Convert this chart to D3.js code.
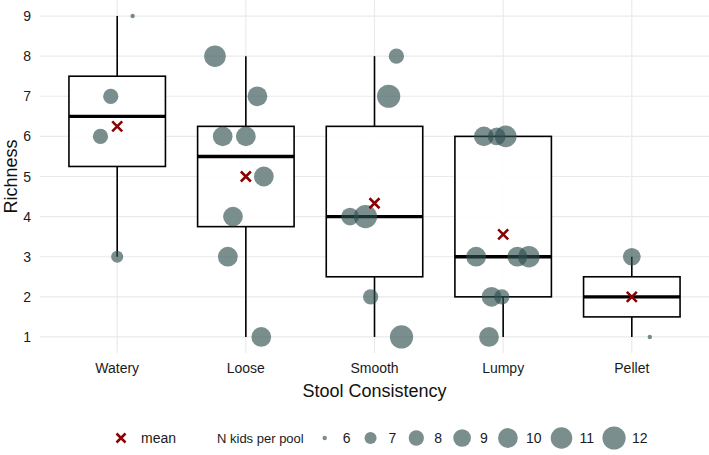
<!DOCTYPE html>
<html>
<head>
<meta charset="utf-8">
<script src="https://cdn.jsdelivr.net/npm/d3@7"></script>
<style>
  body { margin: 0; background: #fff; }
  svg { display: block; font-family: "Liberation Sans", Arial, sans-serif; }
</style>
</head>
<body>
<svg id="chart" width="709" height="455"></svg>
<script>
// categories on the x axis
var categories = ["Watery", "Loose", "Smooth", "Lumpy", "Pellet"];
var yTicks = [1, 2, 3, 4, 5, 6, 7, 8, 9];
var sizeLegend = [6, 7, 8, 9, 10, 11, 12];

// one entry per pooled sample
var pointCategory = [
  "Watery", "Watery", "Watery", "Watery",
  "Loose", "Loose", "Loose", "Loose", "Loose", "Loose", "Loose", "Loose",
  "Smooth", "Smooth", "Smooth", "Smooth", "Smooth", "Smooth",
  "Lumpy", "Lumpy", "Lumpy", "Lumpy", "Lumpy", "Lumpy", "Lumpy", "Lumpy", "Lumpy",
  "Pellet", "Pellet"
];
var pointRichness = [
  9, 7, 6, 3,
  8, 7, 6, 6, 5, 4, 3, 1,
  8, 7, 4, 4, 2, 1,
  6, 6, 6, 3, 3, 3, 2, 2, 1,
  3, 1
];
var pointKids = [
  6, 8, 8, 7,
  11, 10, 10, 10, 10, 10, 10, 10,
  8, 12, 9, 12, 8, 12,
  10, 9, 11, 10, 10, 11, 10, 8, 10,
  9, 6
];
// horizontal jitter, in category steps
var pointJitter = [
  0.12, -0.05, -0.13, 0,
  -0.24, 0.09, -0.18, 0, 0.14, -0.10, -0.14, 0.12,
  0.17, 0.11, -0.19, -0.07, -0.03, 0.21,
  -0.15, -0.05, 0.02, -0.21, 0.11, 0.20, -0.09, -0.01, -0.11,
  0, 0.14
];

var svg = d3.select("#chart");
var panel = {left: 40, right: 709, top: 0, bottom: 353};

var x = d3.scalePoint()
    .domain(categories)
    .range([panel.left, panel.right])
    .padding(0.6);

var y = d3.scaleLinear()
    .domain([0.6, 9.4])
    .range([panel.bottom, panel.top]);

var rScale = d3.scaleLinear().domain([0, Math.sqrt(6)]).range([2.2, 11.6]);
function radius(n) { return rScale(Math.sqrt(n - 6)); }

var pointColor = "#2f4f4f";
var meanColor = "#8b0000";
var gridColor = "#e8ebeb";
var lineW = 1.6;

// grid
svg.append("g").selectAll("line")
    .data(yTicks)
    .join("line")
    .attr("x1", panel.left).attr("x2", panel.right)
    .attr("y1", function (d) { return y(d); })
    .attr("y2", function (d) { return y(d); })
    .attr("stroke", gridColor).attr("stroke-width", 1.2);

svg.append("g").selectAll("line")
    .data(categories)
    .join("line")
    .attr("x1", function (d) { return x(d); })
    .attr("x2", function (d) { return x(d); })
    .attr("y1", panel.top).attr("y2", panel.bottom)
    .attr("stroke", gridColor).attr("stroke-width", 1.2);

// box stats per category
var stats = categories.map(function (c) {
    var vals = pointRichness.filter(function (v, i) { return pointCategory[i] == c; })
        .sort(d3.ascending);
    var q1 = d3.quantile(vals, 0.25),
        med = d3.quantile(vals, 0.5),
        q3 = d3.quantile(vals, 0.75),
        iqr = q3 - q1;
    var lo = d3.min(vals.filter(function (v) { return v >= q1 - 1.5 * iqr; }));
    var hi = d3.max(vals.filter(function (v) { return v <= q3 + 1.5 * iqr; }));
    return {cat: c, q1: q1, med: med, q3: q3, lo: lo, hi: hi, mean: d3.mean(vals)};
});

var boxW = x.step() * 0.75;
var boxes = svg.append("g").selectAll("g")
    .data(stats)
    .join("g");

boxes.append("line")
    .attr("x1", function (d) { return x(d.cat); })
    .attr("x2", function (d) { return x(d.cat); })
    .attr("y1", function (d) { return y(d.q3); })
    .attr("y2", function (d) { return y(d.hi); })
    .attr("stroke", "#000").attr("stroke-width", lineW);

boxes.append("line")
    .attr("x1", function (d) { return x(d.cat); })
    .attr("x2", function (d) { return x(d.cat); })
    .attr("y1", function (d) { return y(d.q1); })
    .attr("y2", function (d) { return y(d.lo); })
    .attr("stroke", "#000").attr("stroke-width", lineW);

boxes.append("rect")
    .attr("x", function (d) { return x(d.cat) - boxW / 2; })
    .attr("width", boxW)
    .attr("y", function (d) { return y(d.q3); })
    .attr("height", function (d) { return y(d.q1) - y(d.q3); })
    .attr("fill", "#fff").attr("fill-opacity", 0.9)
    .attr("stroke", "#000").attr("stroke-width", lineW);

boxes.append("line")
    .attr("x1", function (d) { return x(d.cat) - boxW / 2; })
    .attr("x2", function (d) { return x(d.cat) + boxW / 2; })
    .attr("y1", function (d) { return y(d.med); })
    .attr("y2", function (d) { return y(d.med); })
    .attr("stroke", "#000").attr("stroke-width", 3.4);

// points
svg.append("g").selectAll("circle")
    .data(pointRichness)
    .join("circle")
    .attr("cx", function (d, i) { return x(pointCategory[i]) + pointJitter[i] * x.step(); })
    .attr("cy", function (d) { return y(d); })
    .attr("r", function (d, i) { return radius(pointKids[i]); })
    .attr("fill", pointColor)
    .attr("fill-opacity", 0.64);

// mean crosses
function cross(sel, s) {
    sel.append("path")
        .attr("d", "M" + (-s) + "," + (-s) + "L" + s + "," + s + "M" + (-s) + "," + s + "L" + s + "," + (-s))
        .attr("stroke", meanColor).attr("stroke-width", 2.5).attr("fill", "none");
}
svg.append("g").selectAll("g")
    .data(stats)
    .join("g")
    .attr("transform", function (d) { return "translate(" + x(d.cat) + "," + y(d.mean) + ")"; })
    .call(cross, 5);

// axes text
svg.append("g").selectAll("text")
    .data(yTicks)
    .join("text")
    .attr("x", 31)
    .attr("y", function (d) { return y(d) + 5; })
    .attr("text-anchor", "end")
    .attr("font-size", 14)
    .attr("fill", "#1a1a1a")
    .text(function (d) { return d; });

svg.append("g").selectAll("text")
    .data(categories)
    .join("text")
    .attr("x", function (d) { return x(d); })
    .attr("y", 373)
    .attr("text-anchor", "middle")
    .attr("font-size", 14)
    .attr("fill", "#1a1a1a")
    .text(function (d) { return d; });

svg.append("text")
    .attr("x", (panel.left + panel.right) / 2)
    .attr("y", 397)
    .attr("text-anchor", "middle")
    .attr("font-size", 18)
    .attr("fill", "#111")
    .text("Stool Consistency");

svg.append("text")
    .attr("transform", "translate(17," + (panel.top + panel.bottom) / 2 + ") rotate(-90)")
    .attr("text-anchor", "middle")
    .attr("font-size", 18)
    .attr("fill", "#111")
    .text("Richness");

// legend
var ly = 438;
var legend = svg.append("g");
legend.append("g").attr("transform", "translate(121," + ly + ")").call(cross, 4.5);
legend.append("text")
    .attr("x", 141).attr("y", ly + 5)
    .attr("font-size", 14).attr("fill", "#1a1a1a")
    .text("mean");

var title = legend.append("text")
    .attr("x", 217).attr("y", ly + 4.5)
    .attr("font-size", 13).attr("fill", "#1a1a1a")
    .text("N kids per pool");

var cursor = 217 + title.node().getComputedTextLength() + 1;
sizeLegend.forEach(function (n) {
    var cx = cursor + 20;
    legend.append("circle")
        .attr("cx", cx).attr("cy", ly)
        .attr("r", radius(n))
        .attr("fill", pointColor).attr("fill-opacity", 0.64);
    var t = legend.append("text")
        .attr("x", cx + 18).attr("y", ly + 5)
        .attr("font-size", 14).attr("fill", "#1a1a1a")
        .text(n);
    cursor = cx + 18 + t.node().getComputedTextLength();
});
</script>
</body>
</html>
